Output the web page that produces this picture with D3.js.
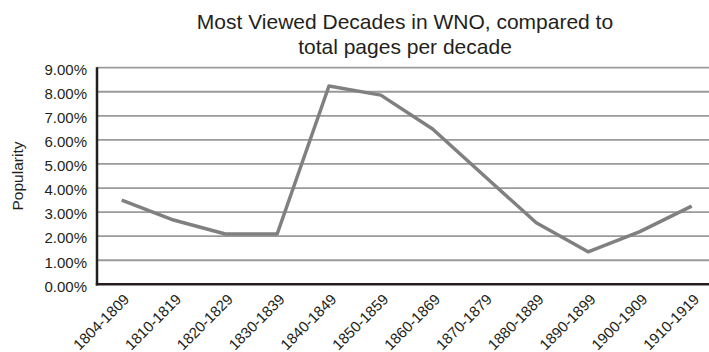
<!DOCTYPE html>
<html>
<head>
<meta charset="utf-8">
<script src="https://cdn.jsdelivr.net/npm/d3@7"></script>
<style>
  html, body { margin: 0; padding: 0; background: #fff; }
  svg { display: block; font-family: "Liberation Sans", Arial, Helvetica, sans-serif; }
</style>
</head>
<body>
<svg id="chart" width="709" height="352"></svg>
<script>
const categories = ["1804-1809","1810-1819","1820-1829","1830-1839","1840-1849","1850-1859","1860-1869","1870-1879","1880-1889","1890-1899","1900-1909","1910-1919"];
const popularity = [3.50, 2.67, 2.09, 2.09, 8.24, 7.86, 6.45, 4.50, 2.56, 1.35, 2.19, 3.25];
const yTicks = [0, 1, 2, 3, 4, 5, 6, 7, 8, 9];
const titleLines = ["Most Viewed Decades in WNO, compared to", "total pages per decade"];
const yTitle = "Popularity";

const svg = d3.select("#chart");
const plotLeft = 97, plotRight = 717.6, plotTop = 67.7, plotBottom = 284.3;

const x = d3.scalePoint().domain(categories).range([95.8, plotRight]).padding(0.5);
const y = d3.scaleLinear().domain([0, 9]).range([plotBottom, plotTop]);

// gridlines
svg.append("g").selectAll("line").data(yTicks.filter(d => d > 0)).join("line")
  .attr("x1", plotLeft).attr("x2", 720)
  .attr("y1", d => y(d)).attr("y2", d => y(d))
  .attr("stroke", "#9a9a9a").attr("stroke-width", 1.8);

// y axis labels
const yAxis = svg.append("g").attr("transform", `translate(${plotLeft},0)`)
  .call(d3.axisLeft(y).tickValues(yTicks).tickSize(0).tickPadding(10)
    .tickFormat(d => d3.format(".2f")(d) + "%"));
yAxis.select(".domain").remove();
yAxis.attr("font-family", null).attr("font-size", null);
yAxis.selectAll("text").attr("y", 2).attr("font-size", 15).attr("fill", "#231f20");

// x axis labels
const xAxis = svg.append("g").attr("transform", `translate(0,${plotBottom})`)
  .call(d3.axisBottom(x).tickSize(0));
xAxis.select(".domain").remove();
xAxis.attr("font-family", null).attr("font-size", null);
xAxis.selectAll("text")
  .attr("y", null).attr("dy", null)
  .attr("transform", "translate(8,16) rotate(-45)")
  .style("text-anchor", "end")
  .attr("font-size", 15).attr("fill", "#231f20");

// axis lines
svg.append("line").attr("x1", plotLeft).attr("x2", plotLeft).attr("y1", plotTop - 0.5).attr("y2", plotBottom + 1.2)
  .attr("stroke", "#231f20").attr("stroke-width", 2.5);
svg.append("line").attr("x1", plotLeft - 1.2).attr("x2", 720).attr("y1", plotBottom).attr("y2", plotBottom)
  .attr("stroke", "#231f20").attr("stroke-width", 2.5);

// series line
const line = d3.line().x((d, i) => x(categories[i])).y(d => y(d));
svg.append("path").datum(popularity)
  .attr("d", line)
  .attr("fill", "none").attr("stroke", "#808080").attr("stroke-width", 3.5)
  .attr("stroke-linejoin", "round").attr("stroke-linecap", "butt");

// title
svg.append("g").selectAll("text").data(titleLines).join("text")
  .attr("x", 405).attr("y", (d, i) => 29 + i * 25)
  .attr("text-anchor", "middle").attr("font-size", 21).attr("fill", "#231f20")
  .text(d => d);

// y axis title
svg.append("text")
  .attr("transform", `translate(23,176) rotate(-90)`)
  .attr("text-anchor", "middle").attr("font-size", 15.5).attr("fill", "#231f20")
  .text(yTitle);
</script>
</body>
</html>
